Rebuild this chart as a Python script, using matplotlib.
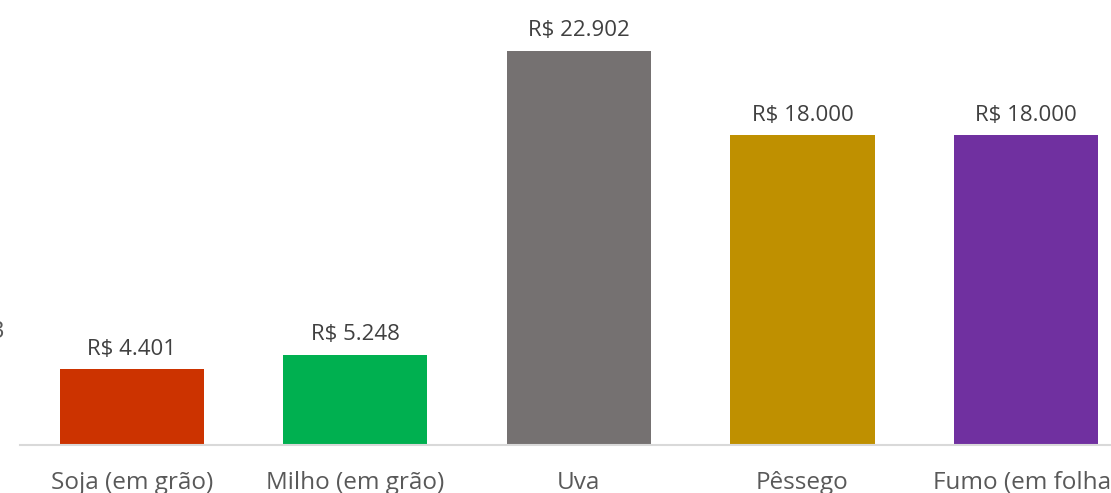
import matplotlib.pyplot as plt

categorias = ["Soja (em grão)", "Milho (em grão)", "Uva", "Pêssego", "Fumo (em folha)"]
valores = [4401, 5248, 22902, 18000, 18000]
rotulos = ["R$ 4.401", "R$ 5.248", "R$ 22.902", "R$ 18.000", "R$ 18.000"]
cores = ["#CC3300", "#00B050", "#757171", "#BF9000", "#7030A0"]

plt.rcParams['font.family'] = ['Open Sans', 'DejaVu Sans']

fig = plt.figure(figsize=(11.11, 4.93), dpi=100)
ax = fig.add_axes([20 / 1111, 48 / 493, 1 - 20 / 1111, 445 / 493])

x = range(len(categorias))
barras = ax.bar(x, valores, width=0.645, color=cores)

for b, txt in zip(barras, rotulos):
    ax.annotate(txt, (b.get_x() + b.get_width() / 2, b.get_height()),
                xytext=(0, 7), textcoords="offset points",
                ha="center", va="bottom", fontsize=16, color="#404040")

ax.set_xlim(-0.5, 4.38)
ax.set_ylim(0, 25870)
ax.set_xticks(list(x))
ax.set_xticklabels(categorias, fontsize=17.5, color="#595959")
ax.tick_params(axis="x", length=0, pad=19)
ax.set_yticks([])
for lado in ["top", "right", "left"]:
    ax.spines[lado].set_visible(False)
ax.spines["bottom"].set_color("#D9D9D9")
ax.spines["bottom"].set_linewidth(1.5)

# pedaco de rotulo cortado na borda esquerda
fig.text(-0.008, 1 - 332 / 493, "3", fontsize=17, color="#595959", va="center")

fig.savefig("out.png", dpi=100)
